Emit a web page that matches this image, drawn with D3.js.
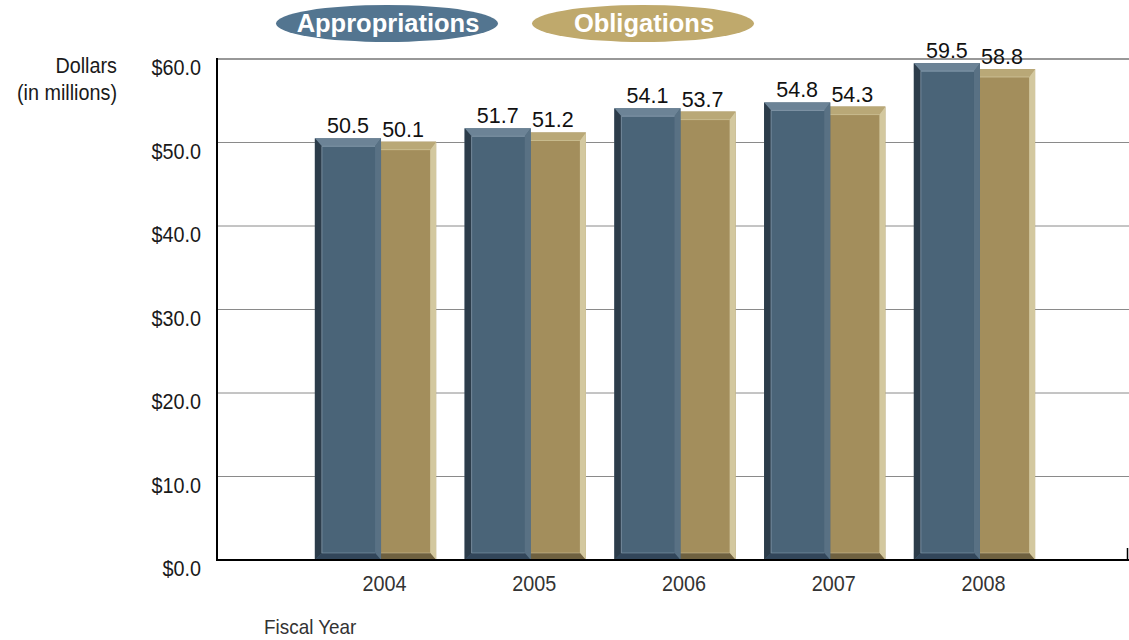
<!DOCTYPE html>
<html>
<head>
<meta charset="utf-8">
<script src="https://cdn.jsdelivr.net/npm/d3@7/dist/d3.min.js"></script>
<style>
  html, body { margin: 0; padding: 0; background: #fff; }
  svg { display: block; }
</style>
</head>
<body>
<svg id="chart" width="1129" height="640"></svg>
<script>
// Fiscal-year funding data (dollars in millions)
const years = ["2004", "2005", "2006", "2007", "2008"];
const seriesNames = ["Appropriations", "Obligations"];
const appropriations = [50.5, 51.7, 54.1, 54.8, 59.5];
const obligations = [50.1, 51.2, 53.7, 54.3, 58.8];
const yTicks = [0, 10, 20, 30, 40, 50, 60];

const svg = d3.select("#chart");
const FONT = "'Liberation Sans', Arial, Helvetica, sans-serif";
const NARROW = 0.9; // horizontal squeeze for the condensed axis lettering

const plot = { left: 217, right: 1129, top: 59, bottom: 560 };

const y = d3.scaleLinear().domain([0, 60]).range([plot.bottom, plot.top]);
const x0 = d3.scaleBand().domain(years).range([240, 1110]).paddingInner(0.19).paddingOuter(0.5);
const x1 = d3.scaleBand().domain(seriesNames).range([0, x0.bandwidth()]).paddingInner(-0.2);

// Condensed text helper: places text at (x, y) squeezed horizontally
function narrowText(parent, x, yPos, str, opts) {
  const g = parent.append("g").attr("transform", `translate(${x},${yPos}) scale(${NARROW},1)`);
  return g.append("text")
    .attr("x", 0).attr("y", 0)
    .attr("text-anchor", opts.anchor || "start")
    .attr("font-family", FONT)
    .attr("font-size", opts.size || 21)
    .attr("fill", opts.fill || "#1a1a1a")
    .text(str);
}

// Bevel palettes for the two series
const palette = {
  Appropriations: { face: "#4a6478", top: "#6c8396", left: "#2c3c4a", right: "#5d7487", bottom: "#32465a", hi: "#8ea3b4", rightOpacity: 0.8 },
  Obligations:    { face: "#a38e5c", top: "#b9a877", left: "#8e7b4c", right: "#d3c89f", bottom: "#6f6140", hi: "#d6caa0", rightOpacity: 1 }
};

// Gridlines
const grid = svg.append("g");
grid.selectAll("line").data(yTicks.filter(t => t > 0 && t < 60)).join("line")
  .attr("x1", plot.left).attr("x2", plot.right)
  .attr("y1", d => y(d)).attr("y2", d => y(d))
  .attr("stroke", "#8a8a8a").attr("stroke-width", 1);
grid.append("line")
  .attr("x1", plot.left).attr("x2", plot.right)
  .attr("y1", y(60)).attr("y2", y(60))
  .attr("stroke", "#333").attr("stroke-width", 1.2);

// Y tick labels
const yLab = svg.append("g");
yTicks.forEach(t => narrowText(yLab, 201, y(t) + 16, "$" + t.toFixed(1), { anchor: "end", size: 22 }));

// Y axis title
narrowText(svg, 117, 73, "Dollars", { anchor: "end", size: 22 });
narrowText(svg, 117, 100, "(in millions)", { anchor: "end", size: 22 });

// Draw a bevelled bar from its data-derived rectangle
function bevelBar(g, x, yTop, w, yBot, pal) {
  const h = yBot - yTop;
  const t = 8, l = 7, r = 6, b = 7;
  const xi0 = x + l, xi1 = x + w - r, yi0 = yTop + t, yi1 = yBot - b;
  g.append("rect").attr("x", x).attr("y", yTop).attr("width", w).attr("height", h).attr("fill", pal.face);
  const poly = (pts, fill, op) => g.append("polygon")
    .attr("points", pts.map(p => p.join(",")).join(" "))
    .attr("fill", fill).attr("fill-opacity", op == null ? 1 : op);
  poly([[x, yTop], [x + w, yTop], [xi1, yi0], [xi0, yi0]], pal.top);
  poly([[x, yTop], [xi0, yi0], [xi0, yi1], [x, yBot]], pal.left);
  poly([[x + w, yTop], [x + w, yBot], [xi1, yi1], [xi1, yi0]], pal.right, pal.rightOpacity);
  poly([[x, yBot], [xi0, yi1], [xi1, yi1], [x + w, yBot]], pal.bottom);
  // inner highlight rim
  g.append("path")
    .attr("d", `M${xi0},${yi1} L${xi0},${yi0} L${xi1},${yi0}`)
    .attr("fill", "none").attr("stroke", pal.hi).attr("stroke-width", 1).attr("stroke-opacity", 0.7);
  g.append("path")
    .attr("d", `M${xi0},${yi1} L${xi1},${yi1}`)
    .attr("fill", "none").attr("stroke", pal.hi).attr("stroke-width", 1).attr("stroke-opacity", 0.5);
}

const barsG = svg.append("g");
// Obligations drawn first so appropriations overlap them
const order = [["Obligations", obligations], ["Appropriations", appropriations]];
order.forEach(([name, vals]) => {
  years.forEach((yr, i) => {
    const bx = x0(yr) + x1(name);
    bevelBar(barsG, bx, y(vals[i]), x1.bandwidth(), y(0), palette[name]);
  });
});

// Value labels
const labelsG = svg.append("g");
[["Appropriations", appropriations], ["Obligations", obligations]].forEach(([name, vals]) => {
  labelsG.selectAll(null).data(years).join("text")
    .attr("x", yr => x0(yr) + x1(name) + x1.bandwidth() / 2)
    .attr("y", (yr, i) => y(vals[i]) - 5)
    .attr("text-anchor", "middle")
    .attr("font-family", FONT)
    .attr("font-size", 21.5).attr("fill", "#111")
    .text((yr, i) => vals[i].toFixed(1));
});

// Axes lines
svg.append("line").attr("x1", plot.left).attr("x2", plot.left)
  .attr("y1", plot.top - 1).attr("y2", plot.bottom + 1)
  .attr("stroke", "#000").attr("stroke-width", 2);
svg.append("line").attr("x1", plot.left - 1).attr("x2", plot.right)
  .attr("y1", plot.bottom).attr("y2", plot.bottom)
  .attr("stroke", "#000").attr("stroke-width", 2.2);
svg.append("line").attr("x1", 1127.5).attr("x2", 1127.5)
  .attr("y1", plot.bottom - 12).attr("y2", plot.bottom)
  .attr("stroke", "#000").attr("stroke-width", 1.5);

// X tick labels
const xLab = svg.append("g");
years.forEach(yr => narrowText(xLab, x0(yr) + x0.bandwidth() / 2 + 9, 591, yr, { anchor: "middle", size: 22, fill: "#333" }));

// X axis title
narrowText(svg, 264, 634, "Fiscal Year", { size: 21, fill: "#333" });

// Legend pills
const legend = [
  { name: "Appropriations", x: 276, w: 222, fill: "#537590" },
  { name: "Obligations", x: 532, w: 222, fill: "#bfa96c" }
];
const lg = svg.append("g");
legend.forEach(d => {
  lg.append("rect").attr("x", d.x).attr("y", 5).attr("width", d.w).attr("height", 37)
    .attr("rx", 111).attr("ry", 18.5).attr("fill", d.fill);
  lg.append("text").attr("x", d.x + d.w / 2 + 1).attr("y", 32)
    .attr("text-anchor", "middle")
    .attr("font-family", FONT)
    .attr("font-weight", "bold").attr("font-size", 25.5).attr("fill", "#fff")
    .text(d.name);
});
</script>
</body>
</html>
